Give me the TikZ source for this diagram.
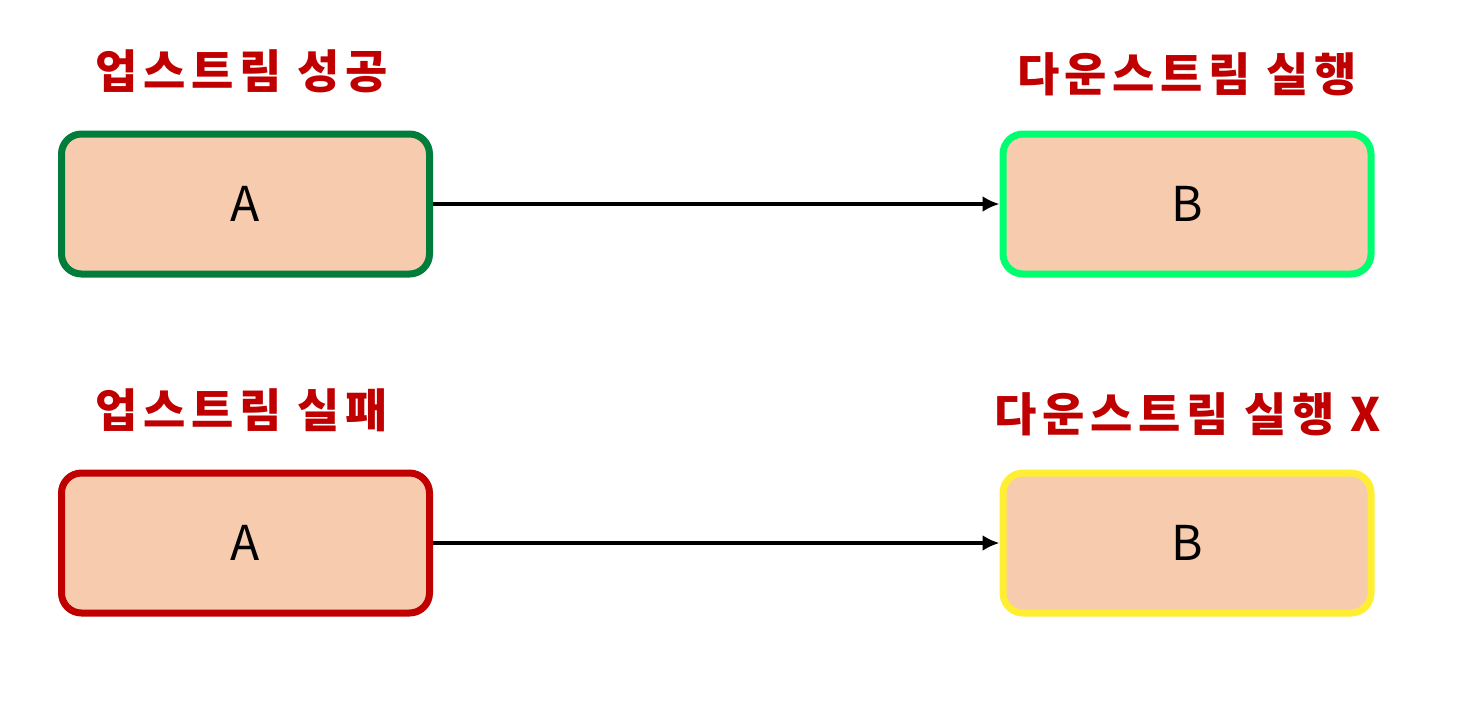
\documentclass[tikz,border=0pt]{standalone}
\usepackage{fontspec}
\setmainfont{Noto Sans CJK KR}
\usepackage{xcolor}
\usepackage{tikz}
\usetikzlibrary{arrows.meta,positioning}
\definecolor{peachfill}{RGB}{247, 203, 173}
\definecolor{okgreen}{RGB}{0, 125, 58}
\definecolor{rungreen}{RGB}{0, 255, 112}
\definecolor{failred}{RGB}{192, 0, 0}
\definecolor{skipyellow}{RGB}{255, 238, 50}

\begin{document}
\begin{tikzpicture}[x=1pt,y=-1pt,
    stage/.style={draw,line width=7pt,rounded corners=20pt,fill=peachfill,
      minimum width=368pt,minimum height=140pt,inner sep=0pt,
      font=\fontsize{48}{56}\selectfont},
    caption/.style={text=failred,inner sep=0pt,
      font=\fontsize{46}{54}\selectfont\bfseries\addfontfeatures{LetterSpace=12}},
    flow/.style={-{Latex[length=17pt,width=16pt]},line width=4.5pt}]
    \useasboundingbox (0,0) rectangle (1458,716);
    % success row
    \node[stage,draw=okgreen] (upA) at (245.5,204) {A};
    \node[stage,draw=rungreen] (downB) at (1187,204) {B};
    \node[caption] (upOk) at (242,71) {업스트림 성공};
    \node[caption] (downRun) at (1187,74) {다운스트림 실행};
    \draw[flow] (upA) -- (downB);
    % failure row
    \node[stage,draw=failred] (upA2) at (245.5,543) {A};
    \node[stage,draw=skipyellow] (downB2) at (1187,543) {B};
    \node[caption] (upFail) at (242,410) {업스트림 실패};
    \node[caption] (downSkip) at (1188,414) {다운스트림 실행 X};
    \draw[flow] (upA2) -- (downB2);
\end{tikzpicture}
\end{document}
